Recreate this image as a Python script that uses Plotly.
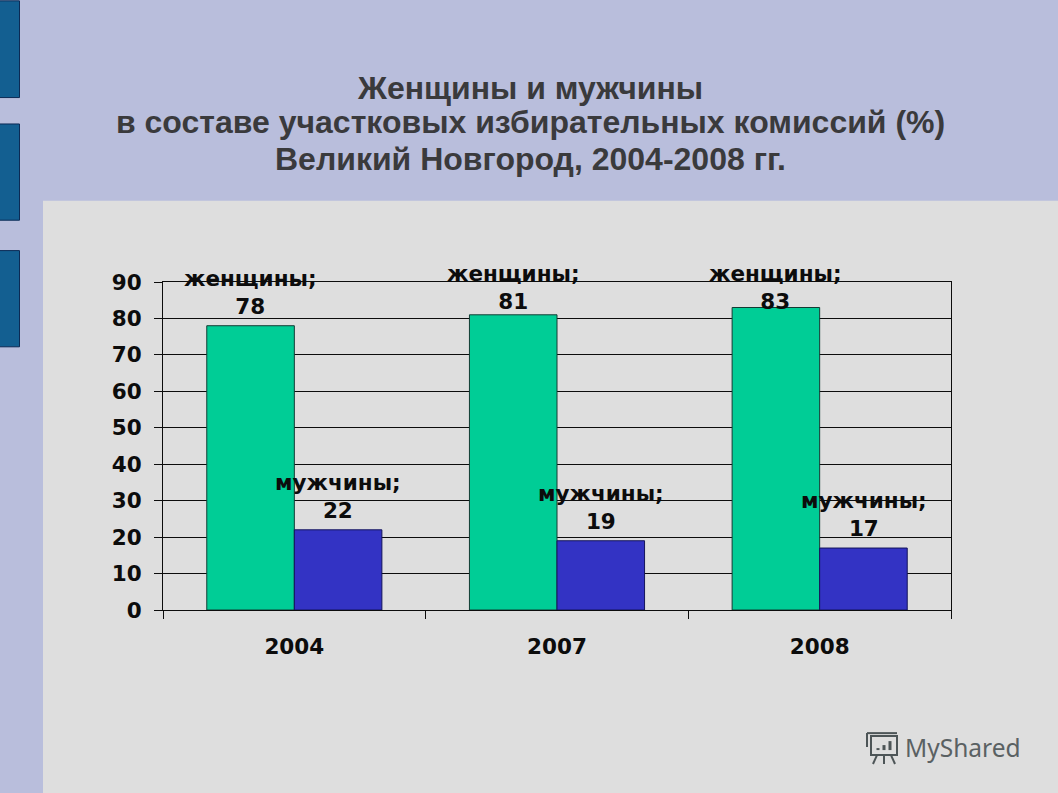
import plotly.graph_objects as go

W, H = 1058, 793

years = ["2004", "2007", "2008"]
women = [78, 81, 83]
men = [22, 19, 17]
women_name = "женщины"
men_name = "мужчины"
title_lines = [
    "Женщины и мужчины",
    "в составе участковых избирательных комиссий (%)",
    "Великий Новгород, 2004-2008 гг.",
]
watermark = "MyShared"

# vertical offset (pixels above the bar top) of each data label block
women_label_lift = [6, 0, -7]
men_label_lift = [6, 6, 6]

L, R, T, B = 163, 951, 281.5, 610.5


def px(x):
    return (x - L) / (R - L)


def py(y):
    return (B - y) / (B - T)


def rect(x0, y0, x1, y1, fill, line=None, width=1, layer="below"):
    return dict(
        type="rect", xref="paper", yref="paper", layer=layer,
        x0=px(x0), x1=px(x1), y0=py(y0), y1=py(y1),
        fillcolor=fill,
        line=dict(color=line or fill, width=width if line else 0),
    )


def seg(x0, y0, x1, y1, color="#4d5557", width=2):
    return dict(
        type="line", xref="paper", yref="paper", layer="above",
        x0=px(x0), x1=px(x1), y0=py(y0), y1=py(y1),
        line=dict(color=color, width=width),
    )


shapes = [
    rect(-3, -3, W + 3, H + 3, "#b9bedc"),
    rect(43, 200, W + 3, H + 3, "#dedede"),
    rect(-2, -0.5, 19.5, 96.5, "#135f91", "#0b2a55"),
    rect(-2, 123, 19.5, 219.5, "#135f91", "#0b2a55"),
    rect(-2, 250, 19.5, 346.5, "#135f91", "#0b2a55"),
    # watermark icon
    rect(871, 737, 897, 756, "rgba(0,0,0,0)", "#4d5557", 2, "above"),
    seg(867, 734, 897, 734),
    seg(867, 734, 867, 748),
    seg(877, 756, 873, 765),
    seg(884, 756, 884, 765),
    seg(891, 756, 895, 765),
    seg(878, 751, 878, 749, "#4d5557", 3),
    seg(884, 751, 884, 746, "#4d5557", 3),
    seg(890, 751, 890, 742, "#4d5557", 3),
]

fig = go.Figure()
fig.add_bar(x=years, y=women, name=women_name, marker=dict(color="#00cd96", line=dict(color="#123c34", width=1)))
fig.add_bar(x=years, y=men, name=men_name, marker=dict(color="#3333c4", line=dict(color="#14145c", width=1)))

INK = "#0c0c0c"
label_font = dict(family="DejaVu Sans", size=21.5, color=INK)
annotations = []
for i, (v, lift) in enumerate(zip(women, women_label_lift)):
    annotations.append(dict(
        x=i, y=v, xref="x", yref="y", xshift=-44, yshift=lift, yanchor="bottom", showarrow=False,
        align="center", text=f"<b>{women_name};<br>{v}</b>", font=label_font, borderpad=0,
    ))
for i, (v, lift) in enumerate(zip(men, men_label_lift)):
    annotations.append(dict(
        x=i, y=v, xref="x", yref="y", xshift=44, yshift=lift, yanchor="bottom", showarrow=False,
        align="center", text=f"<b>{men_name};<br>{v}</b>", font=label_font, borderpad=0,
    ))
title_sizes = [32, 32, 32]
title_centers = [86.5, 121.5, 158.5]
for line, size, yc in zip(title_lines, title_sizes, title_centers):
    annotations.append(dict(
        x=px(530), y=py(yc), xref="paper", yref="paper", xanchor="center", yanchor="middle", showarrow=False,
        text=f"<b>{line}</b>", font=dict(family="Liberation Sans", size=size, color="#3a3a3c"),
    ))
annotations.append(dict(
    x=px(903), y=py(748), xref="paper", yref="paper", xanchor="left", yanchor="middle", showarrow=False,
    text=watermark, font=dict(family="Noto Sans", size=24.5, color="#5a6163"),
))

fig.update_layout(
    width=W, height=H, autosize=False,
    margin=dict(l=L, r=W - R, t=T, b=H - B, pad=0),
    paper_bgcolor="#b9bedc", plot_bgcolor="rgba(0,0,0,0)",
    barmode="group", bargap=1 / 3, bargroupgap=0, showlegend=False,
    shapes=shapes, annotations=annotations,
    xaxis=dict(
        type="category", range=[-0.5, 2.5], tickson="boundaries", ticks="outside", ticklen=8, tickwidth=1, tickcolor=INK,
        showline=True, mirror=True, linecolor=INK, linewidth=1, showgrid=False, tickangle=0,
        tickfont=dict(family="DejaVu Sans", size=21.5, color=INK), ticklabelstandoff=17,
        tickprefix="<b>", ticksuffix="</b>",
    ),
    yaxis=dict(
        range=[0, 90], dtick=10, ticks="outside", ticklen=8, tickwidth=1, tickcolor=INK,
        showline=True, mirror=True, linecolor=INK, linewidth=1, showgrid=True, gridcolor=INK, gridwidth=1,
        zeroline=False, tickfont=dict(family="DejaVu Sans", size=21.5, color=INK), ticklabelstandoff=8,
        tickprefix="<b>", ticksuffix="</b>",
    ),
)

fig.write_html(
    "out.html",
    config=dict(displayModeBar=False),
    post_script="document.body.style.margin='0';document.body.style.overflow='hidden';",
)
